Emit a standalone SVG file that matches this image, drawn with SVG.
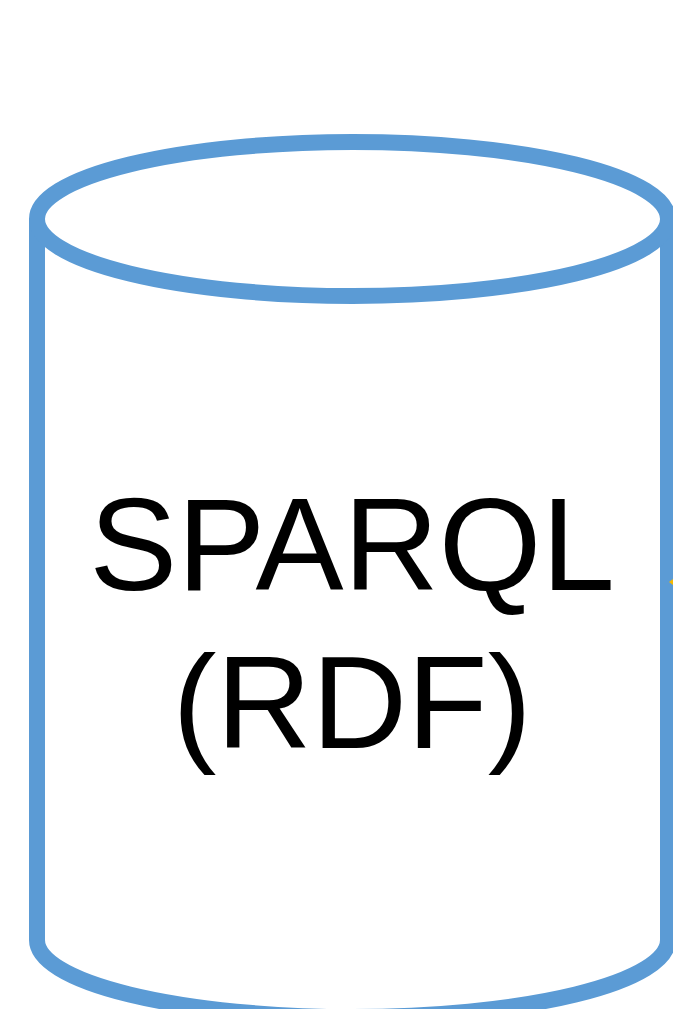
<svg xmlns="http://www.w3.org/2000/svg" width="673" height="1009" viewBox="0 0 673 1009">
<style>
.shape{fill:#ffffff;stroke:#5b9bd5;stroke-width:16;}
.lbl{font-family:"Liberation Sans",Arial,sans-serif;font-size:132px;fill:#000000;text-anchor:middle;}
</style>
<rect width="673" height="1009" fill="#ffffff"/>
<g id="sparql-rdf">
<path class="shape" d="M37,219 L37,940 A315.5,77 0 0 0 668,940 L668,219"/>
<ellipse class="shape" cx="352.5" cy="219" rx="315.5" ry="77"/>
<text class="lbl" x="352" y="590">SPARQL</text>
<text class="lbl" x="352" y="748">(RDF)</text>
</g>
<g id="connectors">
<path d="M673,579 L669,582 L673,585 Z" fill="#f5b800"/>
</g>
</svg>
